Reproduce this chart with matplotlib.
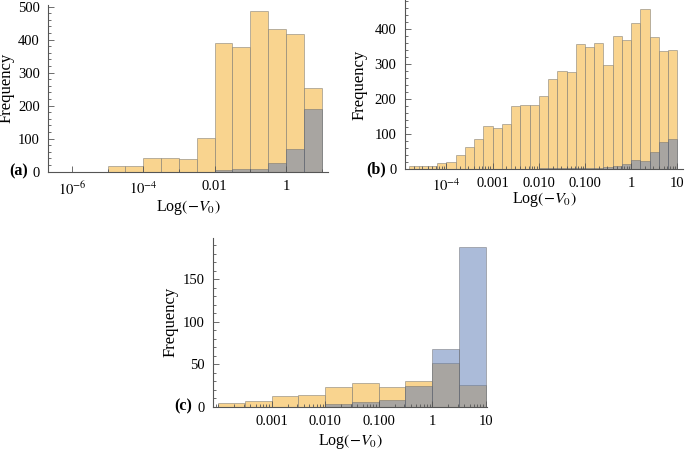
import numpy as np
import matplotlib.pyplot as plt
from matplotlib.ticker import FixedLocator, NullFormatter, MultipleLocator

plt.rcParams['font.family'] = ['Liberation Serif', 'DejaVu Serif']
plt.rcParams['mathtext.fontset'] = 'stix'

# bin edges in log10(-V0)
edges_a = np.arange(-5.0, 1.01, 0.5)
edges_b = np.arange(-4.8, 1.01, 0.2)
edges_c = np.arange(-4.0, 1.01, 0.5)

# (a)
orange_a = [16, 16, 40, 41, 37, 102, 389, 377, 487, 431, 417, 255]
blue_a = [0, 0, 0, 0, 0, 0, 4, 7, 7, 25, 69, 190]

# (b)
orange_b = [10, 8, 10, 18, 20, 39, 62, 85, 122, 116, 130, 180, 182, 182, 210,
            256, 279, 277, 357, 350, 360, 297, 380, 368, 416, 456, 376, 338, 340]
blue_b = [0, 0, 0, 0, 0, 0, 0, 0, 0, 0, 0, 0, 0, 1, 2,
          2, 3, 3, 2, 3, 4, 6, 10, 13, 25, 23, 50, 76, 86]

# (c)
orange_c = [4, 7, 13, 14, 23, 28, 23, 30, 51, 25]
blue_c = [0, 0, 0, 0, 3, 6, 8, 24, 68, 188]

ticks_a = [1e-6, 1e-4, 1e-2, 1]
labels_a = [r'$10^{-6}$', r'$10^{-4}$', '0.01', '1']
ticks_b = [1e-4, 1e-3, 1e-2, 1e-1, 1, 10]
labels_b = [r'$10^{-4}$', '0.001', '0.010', '0.100', '1', '10']
ticks_c = [1e-3, 1e-2, 1e-1, 1, 10]
labels_c = ['0.001', '0.010', '0.100', '1', '10']

W, H = 685, 451
c_orange = (249/255, 212/255, 143/255)
c_blue = (88/255, 120/255, 180/255, 0.5)
c_edge = (0.4, 0.4, 0.4, 0.45)
c_axis = '#555555'
fs = 10.5

fig = plt.figure(figsize=(W/100, H/100), dpi=100)


def make_ax(l, r, t, b):
    return fig.add_axes([l/W, 1 - b/H, (r - l)/W, (b - t)/H])


def draw(ax, box, edges, orange, blue, xlim, ylim, ticks, labels, ymaj, ymin,
         tag, ylab_x, xlab_y, tag_gap, subs):
    l, r, t, b = box
    lo = 10**edges[:-1]
    wd = 10**edges[1:] - lo
    ax.bar(lo, orange, width=wd, align='edge', color=c_orange,
           edgecolor=c_edge, linewidth=0.7)
    ax.bar(lo, blue, width=wd, align='edge', color=c_blue,
           edgecolor=c_edge, linewidth=0.7)
    ax.set_xscale('log')
    ax.set_xlim(10**xlim[0], 10**xlim[1])
    ax.set_ylim(*ylim)
    ax.xaxis.set_major_locator(FixedLocator(ticks))
    ax.set_xticklabels(labels)
    dec = np.arange(np.floor(xlim[0]), np.ceil(xlim[1]) + 1)
    minors = [m * 10**d for d in dec for m in subs]
    minors = [v for v in minors if v not in ticks]
    ax.xaxis.set_minor_locator(FixedLocator(minors))
    ax.xaxis.set_minor_formatter(NullFormatter())
    ax.yaxis.set_major_locator(MultipleLocator(ymaj))
    ax.yaxis.set_minor_locator(MultipleLocator(ymin))
    for s in ['top', 'right']:
        ax.spines[s].set_visible(False)
    for s in ['left', 'bottom']:
        ax.spines[s].set_color(c_axis)
        ax.spines[s].set_linewidth(0.8)
        ax.spines[s].set_zorder(5)
    ax.tick_params(which='both', direction='in', color=c_axis, labelsize=fs,
                   width=0.6)
    ax.tick_params(which='major', length=4, pad=6)
    ax.tick_params(which='minor', length=2)
    ax.set_xlabel(r'Log$(-V_0)$', fontsize=fs + 1)
    ax.set_ylabel('Frequency', fontsize=fs + 1.5)
    ax.yaxis.set_label_coords((ylab_x - l) / (r - l), 0.5)
    ax.xaxis.set_label_coords(0.5, (b - xlab_y) / (b - t))
    ax.text(-tag_gap / (r - l), 0, tag, transform=ax.transAxes,
            fontsize=fs + 1, fontweight='bold', ha='right', va='center')


box_a = (48, 328, 5, 171.7)
ax_a = make_ax(*box_a)
draw(ax_a, box_a, edges_a, orange_a, blue_a, (-6.67, 1.18), (0, 505),
     ticks_a, labels_a, 100, 20, '(a)', 15, 198, 20, [1])

box_b = (404.7, 683, 0, 169)
ax_b = make_ax(*box_b)
draw(ax_b, box_b, edges_b, orange_b, blue_b, (-4.9, 1.12), (0, 483),
     ticks_b, labels_b, 100, 20, '(b)', 368, 190, 19, range(1, 10))

box_c = (213.3, 486.7, 238, 406.7)
ax_c = make_ax(*box_c)
draw(ax_c, box_c, edges_c, orange_c, blue_c, (-4.09, 1.02), (0, 198.5),
     ticks_c, labels_c, 50, 10, '(c)', 179, 432, 21, range(1, 10))

fig.savefig('out.png', dpi=100)
